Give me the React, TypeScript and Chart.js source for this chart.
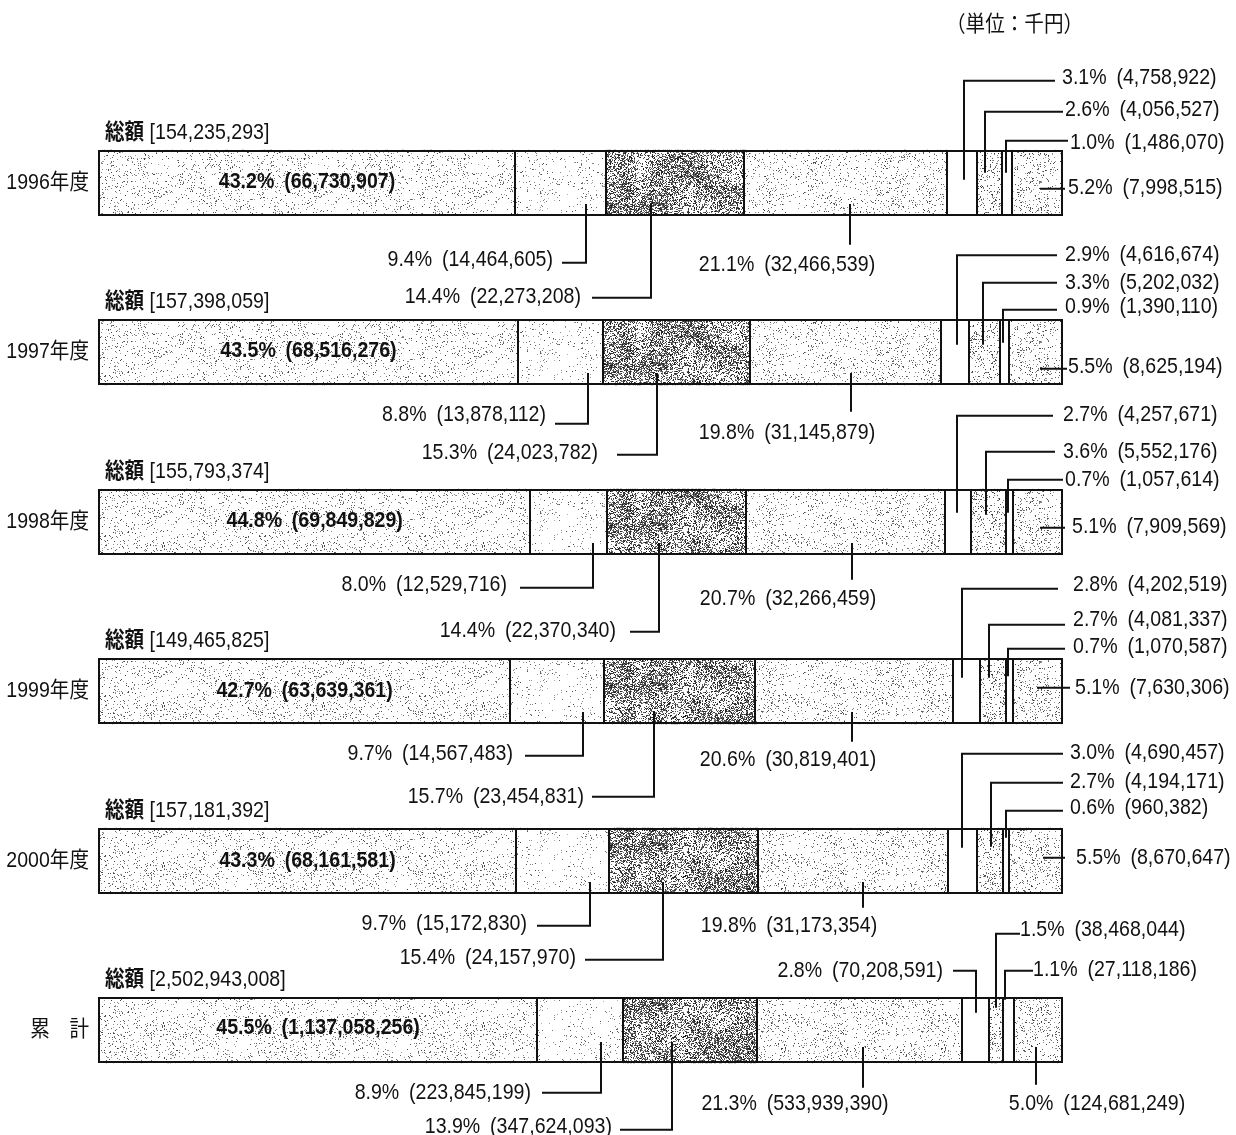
import React, { useEffect, useRef } from "react";
import { Chart, registerables } from "chart.js";

Chart.register(...registerables);

// ---------- data ----------
const categories = ["1996年度", "1997年度", "1998年度", "1999年度", "2000年度", "累　計"];
const totals = [154235293, 157398059, 155793374, 149465825, 157181392, 2502943008];
const unitLabel = "（単位：千円）";
const totalPrefix = "総額";

const pct1 = [43.2, 43.5, 44.8, 42.7, 43.3, 45.5];
const pct2 = [9.4, 8.8, 8.0, 9.7, 9.7, 8.9];
const pct3 = [14.4, 15.3, 14.4, 15.7, 15.4, 13.9];
const pct4 = [21.1, 19.8, 20.7, 20.6, 19.8, 21.3];
const pct5 = [3.1, 2.9, 2.7, 2.8, 3.0, 2.8];
const pct6 = [2.6, 3.3, 3.6, 2.7, 2.7, 1.5];
const pct7 = [1.0, 0.9, 0.7, 0.7, 0.6, 1.1];
const pct8 = [5.2, 5.5, 5.1, 5.1, 5.5, 5.0];

const amt1 = [66730907, 68516276, 69849829, 63639361, 68161581, 1137058256];
const amt2 = [14464605, 13878112, 12529716, 14567483, 15172830, 223845199];
const amt3 = [22273208, 24023782, 22370340, 23454831, 24157970, 347624093];
const amt4 = [32466539, 31145879, 32266459, 30819401, 31173354, 533939390];
const amt5 = [4758922, 4616674, 4257671, 4202519, 4690457, 70208591];
const amt6 = [4056527, 5202032, 5552176, 4081337, 4194171, 38468044];
const amt7 = [1486070, 1390110, 1057614, 1070587, 960382, 27118186];
const amt8 = [7998515, 8625194, 7909569, 7630306, 8670647, 124681249];

const pctSeries = [pct1, pct2, pct3, pct4, pct5, pct6, pct7, pct8];
const amtSeries = [amt1, amt2, amt3, amt4, amt5, amt6, amt7, amt8];

// ---------- styles / layout ----------
// stipple density per series (0 = plain white)
const densities = [0.075, 0.05, 0.42, 0.09, 0, 0.13, 0, 0.11];
const darkness = [60, 70, 20, 60, 0, 50, 0, 55];

type Lab = {
  s: number;
  kind: "in" | "dl" | "dc" | "ur" | "r" | "ul";
  f?: number;
  tx?: number;
  tr?: number;
  lx?: number;
  ty: number;
  ly?: number;
  end?: number;
};

const LAYOUT: Lab[][] = [
  [
    { s: 0, kind: "in", ty: -1 },
    { s: 1, kind: "dl", f: 0.78, tr: 553, lx: 562, ly: 80, ty: 77, end: 12 },
    { s: 2, kind: "dl", f: 0.33, tr: 581, lx: 592, ly: 115, ty: 114, end: 12 },
    { s: 3, kind: "dc", f: 0.52, tx: 787, ty: 82, ly: 62, end: 12 },
    { s: 4, kind: "ur", f: 0.55, lx: 1055, tx: 1062, ly: -102, ty: -105, end: -3 },
    { s: 5, kind: "ur", f: 0.31, lx: 1063, tx: 1065, ly: -71, ty: -73, end: -10 },
    { s: 6, kind: "ur", f: 0.35, lx: 1068, tx: 1070, ly: -42, ty: -39.5, end: -10 },
    { s: 7, kind: "r", f: 0.56, lx: 1065, tx: 1068, ly: 6, ty: 5 },
  ],
  [
    { s: 0, kind: "in", ty: -1.5 },
    { s: 1, kind: "dl", f: 0.83, tr: 546, lx: 555, ly: 71.5, ty: 62.5, end: 12 },
    { s: 2, kind: "dl", f: 0.37, tr: 598, lx: 617, ly: 102.5, ty: 101, end: 12 },
    { s: 3, kind: "dc", f: 0.53, tx: 787, ty: 80.5, ly: 59.5, end: 12 },
    { s: 4, kind: "ur", f: 0.57, lx: 1057, tx: 1065, ly: -97, ty: -97.5, end: -7.5 },
    { s: 5, kind: "ur", f: 0.45, lx: 1057, tx: 1065, ly: -69.5, ty: -69.5, end: -7.5 },
    { s: 6, kind: "ur", f: 0.3, lx: 1057, tx: 1065, ly: -42.5, ty: -45.5, end: -9.5 },
    { s: 7, kind: "r", f: 0.58, lx: 1067, tx: 1068, ly: 16.5, ty: 14.5 },
  ],
  [
    { s: 0, kind: "in", ty: -1 },
    { s: 1, kind: "dl", f: 0.81, tr: 507, lx: 520, ly: 66, ty: 63, end: 12 },
    { s: 2, kind: "dl", f: 0.37, tr: 616, lx: 630, ly: 110, ty: 109, end: 12 },
    { s: 3, kind: "dc", f: 0.53, tx: 788, ty: 77, ly: 58, end: 12 },
    { s: 4, kind: "ur", f: 0.44, lx: 1053, tx: 1063, ly: -106, ty: -107, end: -9 },
    { s: 5, kind: "ur", f: 0.42, lx: 1055, tx: 1063, ly: -70, ty: -70, end: -7 },
    { s: 6, kind: "ur", f: 0.27, lx: 1063, tx: 1065, ly: -42, ty: -42, end: -9 },
    { s: 7, kind: "r", f: 0.55, lx: 1065, tx: 1072, ly: 6, ty: 5 },
  ],
  [
    { s: 0, kind: "in", ty: -0.5 },
    { s: 1, kind: "dl", f: 0.78, tr: 513, lx: 525, ly: 64.5, ty: 62.5, end: 12 },
    { s: 2, kind: "dl", f: 0.33, tr: 584, lx: 592, ly: 105.5, ty: 105.5, end: 12 },
    { s: 3, kind: "dc", f: 0.49, tx: 788, ty: 68.5, ly: 50.5, end: 12 },
    { s: 4, kind: "ur", f: 0.32, lx: 1058, tx: 1073, ly: -102.5, ty: -106.5, end: -13.5 },
    { s: 5, kind: "ur", f: 0.34, lx: 1065, tx: 1073, ly: -66.5, ty: -71.5, end: -13.5 },
    { s: 6, kind: "ur", f: 0.24, lx: 1065, tx: 1073, ly: -42.5, ty: -44.5, end: -15 },
    { s: 7, kind: "r", f: 0.5, lx: 1070, tx: 1075, ly: -3.5, ty: -3.5 },
  ],
  [
    { s: 0, kind: "in", ty: 0 },
    { s: 1, kind: "dl", f: 0.79, tr: 527, lx: 537, ly: 65, ty: 63, end: 12 },
    { s: 2, kind: "dl", f: 0.36, tr: 576, lx: 585, ly: 99, ty: 97, end: 12 },
    { s: 3, kind: "dc", f: 0.55, tx: 789, ty: 65, ly: 47, end: 12 },
    { s: 4, kind: "ur", f: 0.47, lx: 1063, tx: 1070, ly: -107, ty: -108, end: -13 },
    { s: 5, kind: "ur", f: 0.52, lx: 1063, tx: 1070, ly: -78, ty: -79, end: -14 },
    { s: 6, kind: "ur", f: 0.45, lx: 1063, tx: 1070, ly: -50, ty: -53, end: -23 },
    { s: 7, kind: "r", f: 0.64, lx: 1065, tx: 1076, ly: -3, ty: -3 },
  ],
  [
    { s: 0, kind: "in", ty: -2.5 },
    { s: 1, kind: "dl", f: 0.75, tr: 531, lx: 542, ly: 62.5, ty: 62.5, end: 21 },
    { s: 2, kind: "dl", f: 0.37, tr: 612, lx: 620, ly: 99.5, ty: 96.5, end: 21 },
    { s: 3, kind: "dc", f: 0.52, tx: 795, ty: 73.5, ly: 57.5, end: 16 },
    { s: 4, kind: "ul", f: 0.52, tr: 943, lx: 953, ly: -59.5, ty: -59, end: -17.5 },
    { s: 5, kind: "ur", f: 0.48, lx: 1020, tx: 1020, ly: -96.5, ty: -100.5, end: -22.5 },
    { s: 6, kind: "ur", f: 0.16, lx: 1033, tx: 1033, ly: -59.5, ty: -60.5, end: -30.5 },
    { s: 7, kind: "dc", f: 0.45, tx: 1097, ty: 73.5, ly: 54.5, end: 16 },
  ],
];

const FS = 22;
const SX = 0.89;
const FONT_FAMILY = '"Liberation Sans", "Noto Sans CJK JP", sans-serif';
const INK = "#111";

const fmt = (n: number) => n.toLocaleString("en-US");
const segLabel = (s: number, r: number) => `${pctSeries[s][r].toFixed(1)}%\u2002(${fmt(amtSeries[s][r])})`;

function drawText(
  ctx: CanvasRenderingContext2D,
  s: string,
  x: number,
  y: number,
  align: CanvasTextAlign,
  bold = false
) {
  ctx.save();
  ctx.translate(x, y);
  ctx.scale(SX, 1);
  ctx.font = `${bold ? "bold " : ""}${FS}px ${FONT_FAMILY}`;
  ctx.textAlign = align;
  ctx.textBaseline = "middle";
  ctx.fillStyle = INK;
  ctx.fillText(s, 0, 0);
  ctx.restore();
}

function textWidth(ctx: CanvasRenderingContext2D, s: string, bold = false) {
  ctx.save();
  ctx.font = `${bold ? "bold " : ""}${FS}px ${FONT_FAMILY}`;
  const w = ctx.measureText(s).width * SX;
  ctx.restore();
  return w;
}

function makePattern(density: number, dark: number, seed: number): CanvasPattern | string {
  if (density <= 0) return "#ffffff";
  const N = 160;
  const c = document.createElement("canvas");
  c.width = N;
  c.height = N;
  const g = c.getContext("2d")!;
  const img = g.createImageData(N, N);
  let st = seed >>> 0;
  const rnd = () => {
    st = (Math.imul(st, 1664525) + 1013904223) >>> 0;
    return st / 4294967296;
  };
  const G = 10;
  const cell = N / G;
  const grid: number[] = [];
  for (let i = 0; i < G * G; i++) grid.push(rnd());
  const at = (i: number, j: number) => grid[(((j % G) + G) % G) * G + (((i % G) + G) % G)];
  for (let y = 0; y < N; y++) {
    for (let x = 0; x < N; x++) {
      const fx = x / cell;
      const fy = y / cell;
      const i0 = Math.floor(fx);
      const j0 = Math.floor(fy);
      const t = fx - i0;
      const u = fy - j0;
      const a = at(i0, j0) * (1 - t) + at(i0 + 1, j0) * t;
      const b = at(i0, j0 + 1) * (1 - t) + at(i0 + 1, j0 + 1) * t;
      const cl = a * (1 - u) + b * u;
      const p = density * (0.3 + 1.4 * cl);
      let v = 255;
      if (rnd() < p) v = Math.floor(dark + rnd() * 110);
      const k = (y * N + x) * 4;
      img.data[k] = v;
      img.data[k + 1] = v;
      img.data[k + 2] = v;
      img.data[k + 3] = 255;
    }
  }
  g.putImageData(img, 0, 0);
  return g.createPattern(c, "repeat")!;
}

const annotPlugin = {
  id: "annot",
  afterDatasetsDraw(chart: any) {
    const ctx: CanvasRenderingContext2D = chart.ctx;
    const metas = pctSeries.map((_, d) => chart.getDatasetMeta(d));
    const area = chart.chartArea;

    drawText(ctx, unitLabel, 946, 25, "left");

    ctx.save();
    ctx.strokeStyle = INK;
    ctx.lineWidth = 2;
    ctx.lineCap = "butt";
    ctx.lineJoin = "miter";

    for (let r = 0; r < categories.length; r++) {
      const el0 = metas[0].data[r];
      const { y, height } = el0.getProps(["y", "height"], true);
      const top = Math.round(y - height / 2);
      const bot = Math.round(y + height / 2);

      // bar outline: top / bottom edges and segment separators
      const leftEdge = Math.round(el0.getProps(["base"], true).base);
      const lastEl = metas[metas.length - 1].data[r];
      const rightEdge = Math.round(lastEl.getProps(["x"], true).x);
      ctx.beginPath();
      ctx.moveTo(leftEdge - 1, top + 1);
      ctx.lineTo(rightEdge + 1, top + 1);
      ctx.moveTo(leftEdge - 1, bot - 1);
      ctx.lineTo(rightEdge + 1, bot - 1);
      ctx.moveTo(leftEdge, top);
      ctx.lineTo(leftEdge, bot);
      for (let d = 0; d < metas.length; d++) {
        const ex = Math.round(metas[d].data[r].getProps(["x"], true).x);
        ctx.moveTo(ex, top);
        ctx.lineTo(ex, bot);
      }
      ctx.stroke();

      // category label
      drawText(ctx, categories[r], area.left - 10, y, "right");

      // total label
      const tx0 = area.left + 6;
      const ty0 = top - 17;
      drawText(ctx, totalPrefix, tx0, ty0, "left", true);
      const w0 = textWidth(ctx, totalPrefix, true);
      drawText(ctx, ` [${fmt(totals[r])}]`, tx0 + w0, ty0, "left");

      for (const L of LAYOUT[r]) {
        const el = metas[L.s].data[r];
        const { x, base } = el.getProps(["x", "base"], true);
        const x0 = Math.min(x, base);
        const x1 = Math.max(x, base);
        const text = segLabel(L.s, r);
        if (L.kind === "in") {
          drawText(ctx, text, (x0 + x1) / 2, y + L.ty, "center", true);
          continue;
        }
        const px = Math.round(x0 + (L.f as number) * (x1 - x0));
        ctx.beginPath();
        if (L.kind === "dl") {
          ctx.moveTo(L.lx!, y + L.ly!);
          ctx.lineTo(px, y + L.ly!);
          ctx.lineTo(px, bot - L.end!);
          ctx.stroke();
          drawText(ctx, text, L.tr!, y + L.ty, "right");
        } else if (L.kind === "dc") {
          ctx.moveTo(px, bot - L.end!);
          ctx.lineTo(px, y + L.ly!);
          ctx.stroke();
          drawText(ctx, text, L.tx!, y + L.ty, "center");
        } else if (L.kind === "ur") {
          ctx.moveTo(L.lx!, y + L.ly!);
          ctx.lineTo(px, y + L.ly!);
          ctx.lineTo(px, y + L.end!);
          ctx.stroke();
          drawText(ctx, text, L.tx!, y + L.ty, "left");
        } else if (L.kind === "r") {
          ctx.moveTo(px, y + L.ly!);
          ctx.lineTo(L.lx!, y + L.ly!);
          ctx.stroke();
          drawText(ctx, text, L.tx!, y + L.ty, "left");
        } else if (L.kind === "ul") {
          ctx.moveTo(L.lx!, y + L.ly!);
          ctx.lineTo(px, y + L.ly!);
          ctx.lineTo(px, y + L.end!);
          ctx.stroke();
          drawText(ctx, text, L.tr!, y + L.ty, "right");
        }
      }
    }
    ctx.restore();
  },
};

export default function App() {
  const ref = useRef<HTMLCanvasElement | null>(null);
  useEffect(() => {
    if (!ref.current) return;
    const datasets = pctSeries.map((data, i) => ({
      label: `s${i + 1}`,
      data,
      backgroundColor: makePattern(densities[i], darkness[i], 12345 + i * 7919),
      borderWidth: 0,
      barThickness: 66,
      inflateAmount: 0,
    }));
    const chart = new Chart(ref.current, {
      type: "bar",
      data: { labels: categories, datasets: datasets as any },
      options: {
        indexAxis: "y",
        animation: false,
        responsive: false,
        devicePixelRatio: 1,
        layout: { padding: { left: 99, right: 174, top: 98, bottom: 20 } },
        plugins: { legend: { display: false }, tooltip: { enabled: false }, title: { display: false } },
        scales: {
          x: { stacked: true, min: 0, max: 100, display: false },
          y: { stacked: true, display: false },
        },
      },
      plugins: [annotPlugin],
    });
    return () => chart.destroy();
  }, []);
  return (
    <div style={{ position: "absolute", left: 0, top: 0, width: 1236, height: 1135, background: "#fff" }}>
      <canvas ref={ref} width={1236} height={1135} style={{ display: "block", width: 1236, height: 1135 }} />
    </div>
  );
}
